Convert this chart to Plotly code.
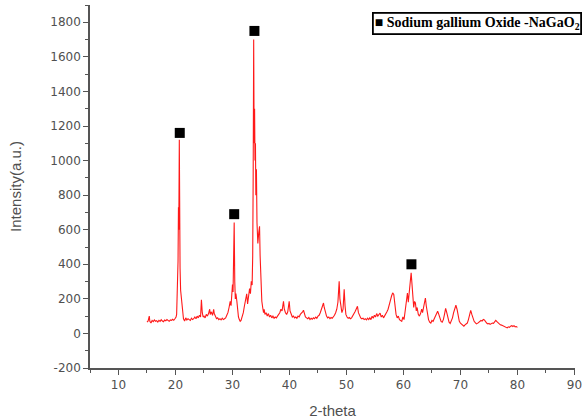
import plotly.graph_objects as go

# XRD pattern: (2-theta, intensity) segments
seg_15_22 = [
    (15.0, 65), (15.2, 72), (15.4, 100), (15.5, 70), (15.7, 60), (15.9, 75), (16.1, 68),
    (16.3, 78), (16.5, 70), (16.7, 74), (16.9, 66), (17.1, 76), (17.3, 70), (17.5, 80),
    (17.7, 72), (17.9, 68), (18.1, 78), (18.3, 73), (18.5, 80), (18.7, 74), (18.9, 70),
    (19.1, 78), (19.3, 75), (19.5, 82), (19.7, 76), (19.9, 85), (20.1, 95), (20.2, 110),
    (20.35, 260), (20.45, 420), (20.52, 730), (20.58, 600), (20.67, 1120), (20.74, 420),
    (20.8, 380), (20.9, 250), (21.0, 210), (21.1, 186), (21.25, 110), (21.4, 85),
    (21.6, 72), (21.8, 90),
]
seg_22_30 = [
    (22.0, 78), (22.2, 85), (22.4, 80), (22.6, 75), (22.8, 88), (23.0, 80), (23.2, 85),
    (23.4, 95), (23.6, 85), (23.8, 100), (24.0, 90), (24.2, 105), (24.4, 95), (24.55, 195),
    (24.7, 120), (24.85, 95), (25.0, 100), (25.2, 90), (25.4, 110), (25.6, 100),
    (25.8, 115), (26.0, 140), (26.1, 110), (26.3, 125), (26.5, 105), (26.7, 140),
    (26.8, 115), (27.0, 95), (27.2, 85), (27.4, 90), (27.6, 80), (27.8, 85), (28.0, 78),
    (28.2, 88), (28.4, 80), (28.6, 85), (28.8, 90), (29.0, 105), (29.2, 120), (29.4, 150),
    (29.6, 186), (29.75, 160), (29.9, 230),
]
seg_30_36 = [
    (30.0, 283), (30.1, 240), (30.2, 380), (30.3, 641), (30.4, 300), (30.5, 200),
    (30.6, 230), (30.77, 186), (30.9, 130), (31.05, 95), (31.2, 80), (31.35, 70),
    (31.5, 75), (31.7, 95), (31.9, 120), (32.1, 160), (32.3, 200), (32.5, 229),
    (32.65, 170), (32.8, 200), (33.0, 260), (33.15, 230), (33.3, 302), (33.45, 280),
    (33.55, 450), (33.63, 900), (33.72, 1700), (33.8, 1100), (33.88, 1300), (33.95, 1000),
    (34.03, 1100), (34.1, 800), (34.2, 950), (34.3, 640), (34.45, 520), (34.6, 580),
    (34.75, 620), (34.85, 450), (34.95, 300), (35.05, 220), (35.15, 186), (35.3, 150),
    (35.45, 120), (35.56, 140), (35.7, 110), (35.9, 120),
]
seg_36_46 = [
    (36.1, 100), (36.3, 115), (36.5, 95), (36.7, 105), (36.9, 90), (37.1, 100), (37.3, 88),
    (37.5, 95), (37.7, 90), (37.9, 100), (38.1, 110), (38.3, 120), (38.5, 140), (38.7, 130),
    (38.95, 186), (39.1, 140), (39.3, 120), (39.5, 110), (39.7, 125), (39.95, 186),
    (40.1, 130), (40.3, 105), (40.5, 95), (40.7, 100), (40.9, 90), (41.1, 95), (41.3, 88),
    (41.5, 100), (41.7, 95), (41.9, 110), (42.1, 115), (42.3, 125), (42.46, 134),
    (42.6, 115), (42.8, 95), (43.0, 90), (43.2, 85), (43.4, 92), (43.6, 80), (43.8, 88),
    (44.0, 82), (44.2, 90), (44.4, 85), (44.6, 95), (44.8, 88), (45.0, 100), (45.2, 105),
    (45.4, 120), (45.6, 140), (45.8, 165), (45.97, 176),
]
seg_46_54 = [
    (46.1, 150), (46.3, 120), (46.5, 100), (46.7, 90), (46.9, 95), (47.1, 85), (47.3, 92),
    (47.5, 88), (47.7, 95), (47.9, 105), (48.1, 120), (48.3, 140), (48.5, 180),
    (48.72, 302), (48.85, 200), (49.0, 150), (49.2, 120), (49.4, 140), (49.6, 256),
    (49.75, 160), (49.9, 110), (50.1, 95), (50.3, 88), (50.5, 92), (50.7, 85), (50.9, 90),
    (51.1, 100), (51.3, 110), (51.5, 125), (51.7, 140), (51.93, 157), (52.1, 120),
    (52.3, 100), (52.5, 90), (52.7, 85), (52.9, 88), (53.1, 80), (53.3, 85), (53.5, 78),
    (53.7, 88), (53.9, 80),
]
seg_54_64 = [
    (54.1, 90), (54.3, 80), (54.5, 100), (54.7, 88), (54.9, 105), (55.1, 95), (55.3, 115),
    (55.5, 100), (55.7, 110), (55.9, 118), (56.1, 95), (56.3, 105), (56.5, 90), (56.7, 100),
    (56.9, 110), (57.1, 125), (57.3, 140), (57.5, 160), (57.7, 190), (57.9, 215),
    (58.1, 235), (58.3, 225), (58.5, 160), (58.7, 110), (58.9, 90), (59.1, 100), (59.3, 80),
    (59.5, 72), (59.7, 70), (59.9, 95), (60.1, 80), (60.3, 130), (60.5, 200), (60.7, 234),
    (60.85, 180), (61.0, 220), (61.2, 300), (61.35, 351), (61.5, 280), (61.65, 200),
    (61.8, 150), (61.95, 185), (62.1, 176), (62.25, 130), (62.4, 150), (62.6, 110),
    (62.8, 100), (63.0, 115), (63.2, 140), (63.35, 120), (63.5, 150), (63.7, 175),
    (63.85, 205),
]
seg_64_80 = [
    (64.0, 160), (64.2, 110), (64.4, 80), (64.6, 65), (64.8, 60), (65.0, 75), (65.2, 70),
    (65.4, 85), (65.6, 100), (65.8, 115), (66.0, 128), (66.2, 110), (66.4, 85), (66.6, 70),
    (66.8, 65), (67.0, 80), (67.2, 110), (67.4, 145), (67.6, 120), (67.8, 80), (68.0, 65),
    (68.2, 58), (68.4, 70), (68.6, 90), (68.8, 120), (69.0, 150), (69.2, 163), (69.4, 140),
    (69.6, 95), (69.8, 70), (70.0, 60), (70.2, 52), (70.4, 48), (70.6, 42), (70.8, 50),
    (71.0, 55), (71.2, 60), (71.4, 80), (71.6, 105), (71.8, 134), (72.0, 110), (72.2, 80),
    (72.4, 70), (72.6, 62), (72.8, 55), (73.0, 58), (73.2, 65), (73.4, 70), (73.6, 75),
    (73.8, 72), (74.0, 81), (74.2, 78), (74.4, 65), (74.6, 60), (74.8, 55), (75.0, 58),
    (75.2, 52), (75.4, 55), (75.6, 60), (75.8, 58), (76.0, 65), (76.2, 75), (76.4, 68),
    (76.6, 60), (76.8, 55), (77.0, 50), (77.2, 48), (77.4, 45), (77.6, 42), (77.8, 38),
    (78.0, 35), (78.2, 32), (78.4, 38), (78.6, 35), (78.8, 42), (79.0, 45), (79.2, 40),
    (79.4, 45), (79.6, 38), (79.8, 40), (80.0, 35),
]

# NaGaO2 peak markers
marker_theta = [20.75, 30.3, 33.85, 61.4]
marker_intensity = [1160, 690, 1750, 400]

x_ticks = [10, 20, 30, 40, 50, 60, 70, 80, 90]
y_ticks = [-200, 0, 200, 400, 600, 800, 1000, 1200, 1400, 1600, 1800]
y_tick_labels = ["-200", "0", "200", "400", "600", "800", "1000", "1200", "1400", "1600", "1800"]

segments = [seg_15_22, seg_22_30, seg_30_36, seg_36_46, seg_46_54, seg_54_64, seg_64_80]
two_theta = [p[0] for s in segments for p in s]
intensity = [p[1] for s in segments for p in s]

fig = go.Figure()
fig.add_trace(go.Scatter(
    x=two_theta, y=intensity, mode="lines",
    line=dict(color="rgb(255,25,25)", width=1.1),
    showlegend=False, hoverinfo="skip",
))
fig.add_trace(go.Scatter(
    x=marker_theta, y=marker_intensity, mode="markers",
    marker=dict(symbol="square", size=10, color="black"),
    showlegend=False,
))

axis_color = "#555555"
label_color = "#505050"
tick_font = dict(family="DejaVu Sans, Arial, sans-serif", size=12, color=label_color)
title_font = dict(family="Liberation Sans, Arial, sans-serif", size=15, color=label_color)

fig.update_xaxes(
    range=[5, 90.1], tickvals=x_ticks, ticks="outside", ticklen=5, tickwidth=1.3,
    tickcolor=axis_color, showline=True, linecolor=axis_color, linewidth=1.5,
    showgrid=False, zeroline=False, tickfont=tick_font, automargin=False,
    minor=dict(dtick=5, tick0=5, ticks="outside", ticklen=3, tickcolor=axis_color, tickwidth=1.2),
    title=dict(text="2-theta", font=title_font, standoff=30),
)
fig.update_yaxes(
    range=[-200, 1900], tickvals=y_ticks, ticktext=y_tick_labels, ticks="outside",
    ticklen=5, tickwidth=1.3, automargin=True,
    tickcolor=axis_color, showline=True, linecolor=axis_color, linewidth=1.5,
    showgrid=False, zeroline=False, tickfont=tick_font,
    minor=dict(dtick=100, tick0=0, ticks="outside", ticklen=3, tickcolor=axis_color, tickwidth=1.2),
    title=dict(text="Intensity(a.u.)", font=title_font, standoff=25),
)

fig.add_annotation(
    xref="paper", yref="paper", x=1.0, y=1.0, xanchor="right", yanchor="top",
    text="<b>■ Sodium gallium Oxide -NaGaO<sub>2</sub></b>",
    showarrow=False, align="left",
    font=dict(family="Liberation Serif, Times New Roman, serif", size=14, color="black"),
    bordercolor="black", borderwidth=1.8, borderpad=1, bgcolor="white",
    xshift=7, yshift=-7,
)

fig.update_layout(
    width=586, height=419,
    margin=dict(l=90, r=11, t=5, b=51),
    paper_bgcolor="white", plot_bgcolor="white",
)

fig.write_html("out.html")
